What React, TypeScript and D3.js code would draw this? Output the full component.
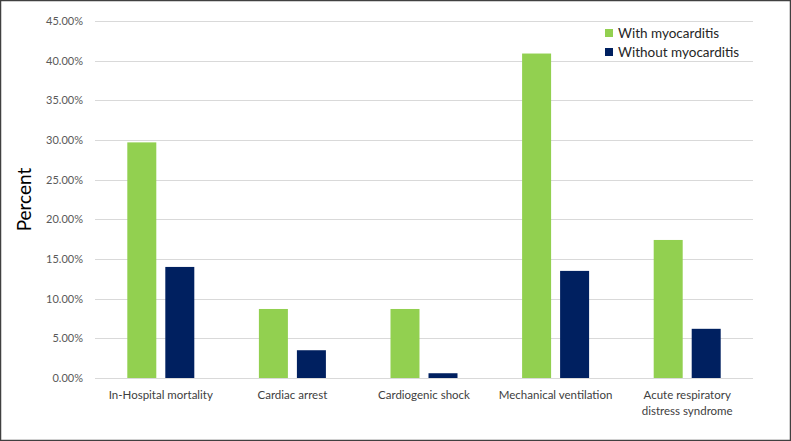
import * as d3 from "d3";
import React from "react";

// chart data
const categories = [
  "In-Hospital mortality",
  "Cardiac arrest",
  "Cardiogenic shock",
  "Mechanical ventilation",
  "Acute respiratory distress syndrome",
];
const categoryLines = [
  ["In-Hospital mortality"],
  ["Cardiac arrest"],
  ["Cardiogenic shock"],
  ["Mechanical ventilation"],
  ["Acute respiratory", "distress syndrome"],
];
const seriesNames = ["With myocarditis", "Without myocarditis"];
const withMyocarditis = [29.7, 8.7, 8.7, 40.9, 17.4];
const withoutMyocarditis = [14.0, 3.5, 0.6, 13.5, 6.2];
const yTicks = [0, 5, 10, 15, 20, 25, 30, 35, 40, 45];

const colors = ["#92D050", "#002060"];

export default function App() {
  const width = 791;
  const height = 441;
  const margin = { top: 21, right: 38, bottom: 63, left: 95 };
  const font = "Lato, 'Open Sans', sans-serif";

  const x = d3
    .scaleBand()
    .domain(categories)
    .range([margin.left, width - margin.right])
    .padding(0);

  const y = d3
    .scaleLinear()
    .domain([0, 45])
    .range([height - margin.bottom, margin.top]);

  // two bars per category, 29px wide, 8px apart
  const inner = d3
    .scaleBand()
    .domain(seriesNames)
    .range([x.bandwidth() / 2 - 33.5, x.bandwidth() / 2 + 33.5])
    .paddingInner(0.237)
    .paddingOuter(0);

  const series = [withMyocarditis, withoutMyocarditis];

  return (
    <svg
      width={width}
      height={height}
      style={{ position: "absolute", left: 0, top: 0, display: "block", background: "#fff" }}
    >
      <rect x={0.5} y={0.5} width={width - 1} height={height - 1} fill="#fff" stroke="#404040" strokeWidth={1.5} />

      {/* grid */}
      <g>
        {yTicks.map((t) => (
          <line
            key={t}
            x1={margin.left}
            x2={width - margin.right}
            y1={Math.round(y(t)) + 0.5}
            y2={Math.round(y(t)) + 0.5}
            stroke="#d9d9d9"
            strokeWidth={1}
          />
        ))}
      </g>

      {/* y tick labels */}
      <g fontFamily={font} fontSize={11} fill="#595959" textAnchor="end">
        {yTicks.map((t) => (
          <text key={t} x={83} y={y(t)} dy="0.35em">
            {t.toFixed(2) + "%"}
          </text>
        ))}
      </g>

      <text
        transform={`translate(31,${(y(0) + y(45)) / 2}) rotate(-90)`}
        textAnchor="middle"
        fontFamily={font}
        fontSize={19}
        fill="#000"
      >
        Percent
      </text>

      {/* bars */}
      {series.map((vals, si) => (
        <g key={si} fill={colors[si]}>
          {vals.map((v, i) => (
            <rect
              key={i}
              x={(x(categories[i]) ?? 0) + (inner(seriesNames[si]) ?? 0)}
              y={y(v)}
              width={inner.bandwidth()}
              height={y(0) - y(v)}
            />
          ))}
        </g>
      ))}

      {/* x labels */}
      <g fontFamily={font} fontSize={11.5} fill="#404040" textAnchor="middle">
        {categories.map((c, i) => (
          <text key={c} x={(x(c) ?? 0) + x.bandwidth() / 2} y={399}>
            {categoryLines[i].map((l, j) => (
              <tspan key={j} x={(x(c) ?? 0) + x.bandwidth() / 2} dy={j === 0 ? 0 : 16}>
                {l}
              </tspan>
            ))}
          </text>
        ))}
      </g>

      {/* legend */}
      <g fontFamily={font} fontSize={13.5} fill="#262626">
        {seriesNames.map((s, i) => (
          <g key={s} transform={`translate(605,${29 + i * 19})`}>
            <rect width={8} height={8} fill={colors[i]} />
            <text x={13} y={4} dy="0.36em">
              {s}
            </text>
          </g>
        ))}
      </g>
    </svg>
  );
}
